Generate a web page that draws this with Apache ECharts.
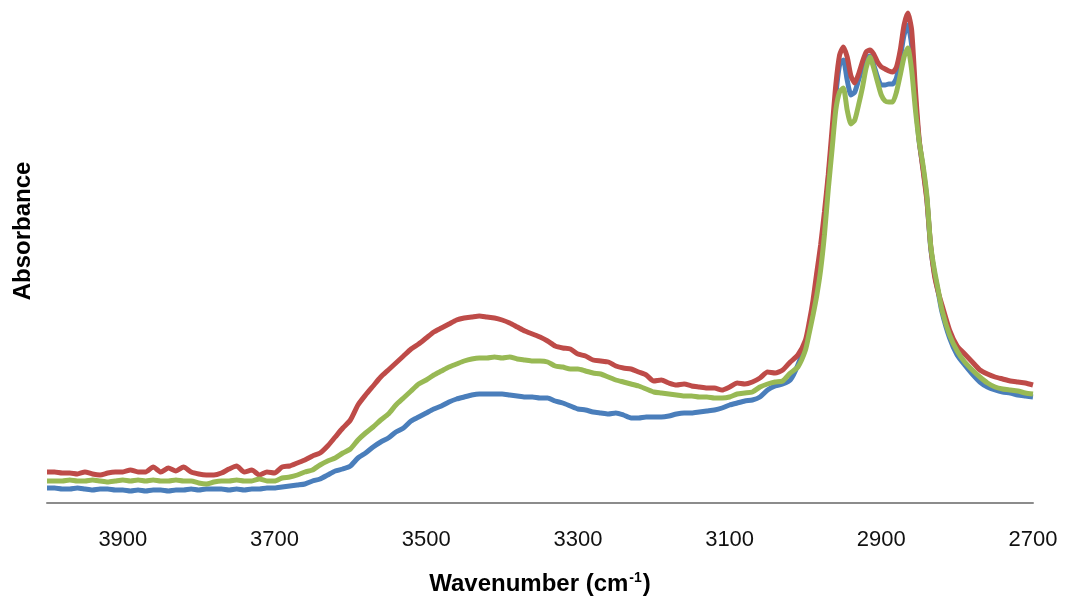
<!DOCTYPE html>
<html>
<head>
<meta charset="utf-8">
<script src="https://cdn.jsdelivr.net/npm/echarts@6/dist/echarts.min.js"></script>
<style>html,body{margin:0;padding:0;background:#fff}#c{width:1068px;height:605px}</style>
</head>
<body>
<div id="c"></div>
<script>
// Wavenumber grid (cm-1)
const wavenumbers = [
4000,3990,3980,3970,3960,3950,3940,3930,3920,3910,3900,3890,3880,3870,3860,3850,3840,3830,3820,3810,
3800,3790,3780,3770,3760,3750,3740,3730,3720,3710,3700,
3690,3680,3670,3660,3650,3640,3630,3620,3610,3600,
3590,3580,3570,3560,3550,3540,3530,3520,3510,3500,
3490,3480,3470,3460,3450,3440,3430,3420,3410,3400,
3390,3380,3370,3360,3350,3340,3330,3320,3310,3300,
3290,3280,3270,3260,3250,3240,3230,3220,3210,3200,
3190,3180,3170,3160,3150,3140,3130,3120,3110,3100,
3090,3080,3070,3060,3050,3040,3030,3020,3010,3000,
2995,2990,2985,2980,2975,2970,2965,2960,2955,2950,
2945,2940,2935,2930,2925,2920,2915,2910,2905,2900,
2895,2890,2885,2880,2875,2870,2865,2860,2855,2850,
2845,2840,2835,2830,2825,2820,
2810,2800,2790,2780,2770,2760,2750,2740,2730,2720,2710,2700
];
// Absorbance (arbitrary units)
const blueSeries = [
15,15,14,14,15,14,13,14,14,13,13,12,13,12,13,13,12,13,13,14,
13,14,14,14,13,14,13,14,14,15,15,
16,17,18,19,22,24,28,32,34,37,
45,50,56,61,65,71,75,82,86,90,
94,97,101,104,106,108,109,109,109,109,
108,107,106,106,105,105,102,100,97,94,
93,91,90,89,90,88,85,85,86,86,
86,87,89,90,90,91,92,93,95,98,
100,102,103,106,113,117,119,123,138,160,
175,195,218,245,278,323,363,408,438,443,
423,408,411,423,435,445,447,438,426,418,
418,419,419,425,445,468,478,458,403,361,
335,305,256,230,211,191,
165,148,138,129,121,116,113,111,110,108,107,106
];
const redSeries = [
31,31,30,30,29,31,29,28,30,31,31,33,31,31,36,31,35,32,36,31,
29,28,28,30,34,37,31,33,28,31,30,
36,37,40,43,47,50,57,66,75,83,
98,108,117,126,133,140,147,154,159,165,
171,175,179,183,185,186,187,186,185,183,
180,176,172,169,166,162,157,155,154,149,
147,143,142,141,137,135,134,131,128,122,
123,120,118,119,117,116,115,115,113,116,
120,119,121,125,131,130,133,141,148,163,
181,203,231,258,291,328,373,418,448,456,
446,427,420,429,441,451,453,449,441,436,
434,432,431,436,453,478,490,473,413,363,
333,303,258,228,211,198,
173,157,149,141,133,129,126,124,122,121,120,118
];
const greenSeries = [
22,22,22,23,22,22,23,22,21,22,23,22,23,22,23,22,22,23,22,22,
20,19,21,22,22,23,22,22,24,22,22,
25,26,28,31,33,38,42,45,50,54,
63,70,76,83,89,98,105,112,119,123,
128,132,136,139,142,144,145,145,146,145,
146,144,143,142,142,141,137,136,134,134,
132,130,129,126,123,121,119,117,114,111,
110,109,108,107,107,106,106,105,105,106,
109,110,111,116,119,121,122,130,136,153,
170,188,208,233,268,313,353,393,411,415,
393,379,383,398,415,435,446,435,421,408,
402,401,401,411,428,446,455,433,393,361,
338,308,258,233,213,193,
168,152,141,133,126,120,116,114,113,112,110,109
];
const tickLabels = [3900,3700,3500,3300,3100,2900,2700];
const xTitle = 'Wavenumber (cm';
const yTitle = 'Absorbance';

function pairs(ys){ return wavenumbers.map((w,i)=>[w, ys[i]]); }

const chart = echarts.init(document.getElementById('c'), null, {renderer:'canvas'});
const lineCommon = {type:'line', showSymbol:false, symbol:'none', smooth:0.2, animation:false};
chart.setOption({
  animation:false,
  backgroundColor:'#ffffff',
  grid:{left:47, right:35, top:3, bottom:102, containLabel:false},
  xAxis:{
    type:'value', inverse:true, min:2700, max:4000, interval:200,
    axisLine:{show:true, lineStyle:{color:'#8c8c8c', width:2}},
    axisTick:{show:false},
    splitLine:{show:false},
    axisLabel:{customValues:tickLabels, formatter:function(v){return String(v);}, color:'#111', fontSize:22, fontFamily:'Liberation Sans, Arial, sans-serif', margin:26},
    name:'{b|'+xTitle+'}{s|-1}{b|)}',
    nameLocation:'middle', nameGap:68,
    nameTextStyle:{
      rich:{
        b:{fontSize:24, fontWeight:'bold', color:'#000', fontFamily:'Liberation Sans, Arial, sans-serif'},
        s:{fontSize:14, fontWeight:'bold', color:'#000', fontFamily:'Liberation Sans, Arial, sans-serif', verticalAlign:'top', padding:[0,1,12,1]}
      }
    }
  },
  yAxis:{
    type:'value', min:0, max:500,
    axisLine:{show:false}, axisTick:{show:false}, axisLabel:{show:false}, splitLine:{show:false}
  },
  graphic:[{
    type:'text', x:23, y:231, rotation:Math.PI/2,
    style:{text:yTitle, fontSize:24, fontWeight:'bold', fill:'#000', fontFamily:'Liberation Sans, Arial, sans-serif', align:'center', verticalAlign:'middle'}
  }],
  series:[
    Object.assign({name:'Blue', data:pairs(blueSeries), lineStyle:{color:'#4A7EBB', width:5}, itemStyle:{color:'#4A7EBB'}, z:2}, lineCommon),
    Object.assign({name:'Red', data:pairs(redSeries), lineStyle:{color:'#BE4B48', width:5}, itemStyle:{color:'#BE4B48'}, z:3}, lineCommon),
    Object.assign({name:'Green', data:pairs(greenSeries), lineStyle:{color:'#98B954', width:5}, itemStyle:{color:'#98B954'}, z:4}, lineCommon)
  ]
});
</script>
</body>
</html>
